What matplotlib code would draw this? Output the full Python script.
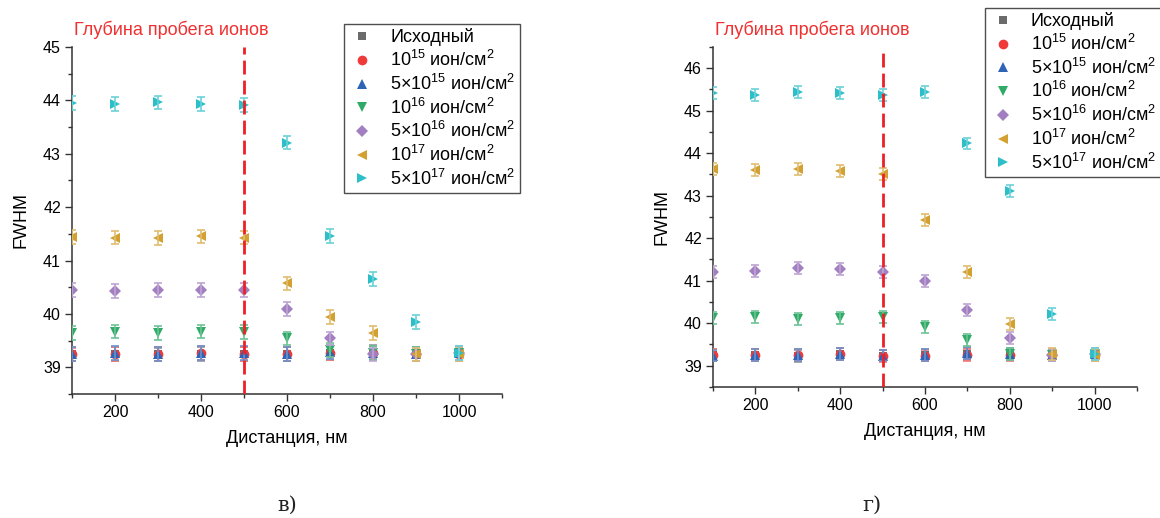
import numpy as np
import matplotlib
matplotlib.use("Agg")
import matplotlib.pyplot as plt
from matplotlib.colors import to_rgb
from matplotlib.ticker import MultipleLocator

plt.rcParams['font.family'] = ['Liberation Sans', 'DejaVu Sans']
plt.rcParams['mathtext.fontset'] = 'custom'
plt.rcParams['mathtext.rm'] = 'Liberation Sans'
plt.rcParams['mathtext.it'] = 'Liberation Sans:italic'

# --------------------------------------------------------------------------------
# data

distance = [100, 200, 300, 400, 500, 600, 700, 800, 900, 1000]

labels = ['Исходный',
          '$10^{15}$ ион/см$^{2}$',
          '5×10$^{15}$ ион/см$^{2}$',
          '$10^{16}$ ион/см$^{2}$',
          '5×10$^{16}$ ион/см$^{2}$',
          '$10^{17}$ ион/см$^{2}$',
          '5×10$^{17}$ ион/см$^{2}$']

# panel в)
v_base = [39.25, 39.25, 39.24, 39.25, 39.25, 39.25, 39.27, 39.28, 39.25, 39.27]
v_1e15 = [39.24, 39.25, 39.25, 39.26, 39.25, 39.25, 39.26, 39.26, 39.24, 39.25]
v_5e15 = [39.25, 39.26, 39.25, 39.26, 39.26, 39.25, 39.28, 39.27, 39.25, 39.26]
v_1e16 = [39.65, 39.67, 39.65, 39.67, 39.66, 39.54, 39.32, 39.27, 39.25, 39.26]
v_5e16 = [40.45, 40.43, 40.45, 40.44, 40.44, 40.10, 39.54, 39.24, 39.24, 39.26]
v_1e17 = [41.44, 41.43, 41.42, 41.45, 41.43, 40.57, 39.94, 39.65, 39.24, 39.25]
v_5e17 = [43.95, 43.93, 43.96, 43.93, 43.92, 43.21, 41.46, 40.66, 39.85, 39.26]
v_err = 0.13

# panel г)
g_base = [39.25, 39.25, 39.22, 39.27, 39.24, 39.25, 39.28, 39.27, 39.24, 39.27]
g_1e15 = [39.26, 39.26, 39.25, 39.28, 39.23, 39.24, 39.26, 39.26, 39.25, 39.26]
g_5e15 = [39.24, 39.26, 39.26, 39.27, 39.24, 39.26, 39.31, 39.27, 39.26, 39.27]
g_1e16 = [40.12, 40.14, 40.10, 40.13, 40.14, 39.91, 39.61, 39.27, 39.26, 39.27]
g_5e16 = [41.21, 41.22, 41.31, 41.27, 41.20, 41.00, 40.32, 39.65, 39.25, 39.27]
g_1e17 = [43.62, 43.60, 43.62, 43.58, 43.51, 42.43, 41.21, 39.98, 39.27, 39.26]
g_5e17 = [45.42, 45.38, 45.44, 45.42, 45.37, 45.44, 44.23, 43.11, 40.21, 39.27]
g_err = 0.14

ion_depth = 500

# --------------------------------------------------------------------------------

colors = ['#6b6b6b', '#f03a3a', '#2f63b5', '#2faa67', '#a27fc0', '#d3a032', '#2cbfc7']
markers = ['s', 'o', '^', 'v', 'D', '<', '>']
msizes = [6, 7, 7.5, 7.5, 6.5, 7.5, 7.5]


def lighter(c, k=0.3):
    r, g, b = to_rgb(c)
    return (r + (1 - r) * k, g + (1 - g) * k, b + (1 - b) * k)


def draw_panel(ax, series, err, ylim, legend_anchor):
    z = 3
    for vals, c, m, ms, lab in zip(series, colors, markers, msizes, labels):
        ax.plot(distance, vals, linestyle='none', marker=m, color=c,
                markersize=ms, markeredgewidth=0, label=lab, zorder=z)
        ax.errorbar(distance, vals, yerr=err, fmt='none', ecolor=lighter(c),
                    elinewidth=1.2, capsize=3, capthick=1.2, zorder=z + 0.5)
        z += 1
    ax.axvline(ion_depth, color='#ee2026', lw=2, dashes=(5, 2.2), zorder=20)
    ax.set_xlim(100, 1100)
    ax.set_ylim(*ylim)
    ax.xaxis.set_major_locator(MultipleLocator(200))
    ax.xaxis.set_minor_locator(MultipleLocator(100))
    ax.yaxis.set_major_locator(MultipleLocator(1))
    ax.yaxis.set_minor_locator(MultipleLocator(0.5))
    for s in ['top', 'right']:
        ax.spines[s].set_visible(False)
    for s in ['left', 'bottom']:
        ax.spines[s].set_color('#333333')
        ax.spines[s].set_linewidth(1.1)
    ax.tick_params(which='major', direction='out', length=5, width=1,
                   labelsize=11.5, color='#333333', pad=3)
    ax.tick_params(which='minor', direction='out', length=3, width=1, color='#333333')
    ax.set_xlabel('Дистанция, нм', fontsize=13)
    ax.set_ylabel('FWHM', fontsize=13)
    ax.xaxis.set_label_coords(0.5, -0.105)
    ax.yaxis.set_label_coords(-0.1, 0.5)
    ax.text(0.005, 1.05, 'Глубина пробега ионов', color='#f03030', fontsize=13,
            transform=ax.transAxes, ha='left', va='center')
    handles, labs = ax.get_legend_handles_labels()
    leg = ax.legend(handles, labs, loc='upper left', bbox_to_anchor=legend_anchor,
                    bbox_transform=fig.transFigure, fontsize=13, frameon=True,
                    fancybox=False, edgecolor='#222222', labelspacing=0.2,
                    handletextpad=0.8, handlelength=1.5, borderpad=0.25,
                    borderaxespad=0)
    leg.get_frame().set_linewidth(1.0)


fig = plt.figure(figsize=(11.6, 5.18), dpi=100)

ax1 = fig.add_axes([0.0621, 0.2394, 0.3707, 0.67])
draw_panel(ax1, [v_base, v_1e15, v_5e15, v_1e16, v_5e16, v_1e17, v_5e17],
           v_err, (38.5, 45), (0.2966, 0.9537))

ax2 = fig.add_axes([0.6147, 0.2529, 0.3655, 0.6564])
draw_panel(ax2, [g_base, g_1e15, g_5e15, g_1e16, g_5e16, g_1e17, g_5e17],
           g_err, (38.5, 46.5), (0.849, 0.985))

fig.text(287 / 1160, 1 - 505 / 518, 'в)', fontsize=15, family='DejaVu Serif',
         ha='center', va='center', color='#222222')
fig.text(872 / 1160, 1 - 505 / 518, 'г)', fontsize=15, family='DejaVu Serif',
         ha='center', va='center', color='#222222')

fig.savefig('out.png', dpi=100)
